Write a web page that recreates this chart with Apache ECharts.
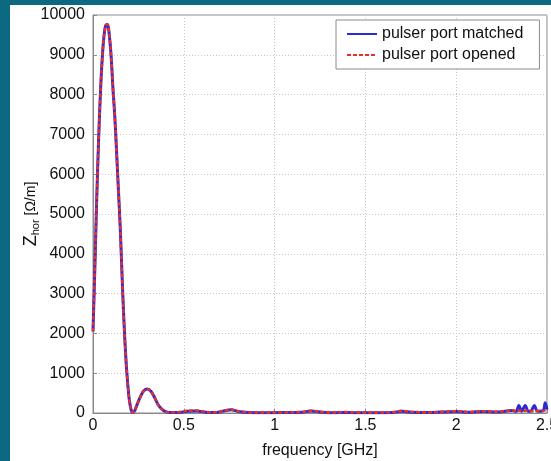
<!DOCTYPE html>
<html>
	<head>
		<meta charset="UTF-8">
		<title></title>
		<script type="text/javascript" src="https://cdn.jsdelivr.net/npm/echarts@6/dist/echarts.min.js"></script>
		<style>
			html, body { margin: 0; padding: 0; background: #0b6a82; }
			#main { position: absolute; left: 10px; top: 5px; width: 541px; height: 456px; background: #fff; }
		</style>
	</head>
	<body>
		<div id="main"></div>
		<script type="text/javascript">
// frequency [GHz] and impedance values
var freq = [0, 0.01, 0.02, 0.03, 0.04, 0.05, 0.06, 0.07, 0.08, 0.09, 0.10, 0.11, 0.12, 0.13, 0.14, 0.15, 0.16, 0.17, 0.18, 0.19, 0.20, 0.21, 0.22, 0.23, 0.24, 0.26, 0.28, 0.30, 0.32, 0.34, 0.36, 0.38, 0.40, 0.43, 0.47, 0.52, 0.57, 0.62, 0.67, 0.72, 0.76, 0.80, 0.86, 0.95, 1.05, 1.15, 1.20, 1.25, 1.33, 1.38, 1.45, 1.55, 1.65, 1.70, 1.75, 1.85, 1.92, 2.00, 2.08, 2.15, 2.22, 2.28, 2.31, 2.33, 2.345, 2.36, 2.38, 2.395, 2.41, 2.43, 2.445, 2.46, 2.48, 2.49, 2.5];
var matched = [2050, 3600, 5300, 6750, 7950, 8850, 9450, 9740, 9760, 9480, 8950, 8150, 7450, 6550, 5600, 4650, 3450, 2350, 1450, 800, 330, 80, 10, 60, 180, 400, 560, 600, 540, 380, 200, 90, 35, 10, 10, 45, 50, 20, 10, 50, 80, 40, 10, 5, 10, 20, 50, 25, 5, 15, 5, 5, 10, 45, 20, 10, 25, 35, 20, 40, 25, 50, 60, 40, 190, 45, 190, 50, 45, 190, 50, 45, 60, 260, 90];
var opened = [2050, 3600, 5300, 6750, 7950, 8850, 9450, 9740, 9760, 9480, 8950, 8150, 7450, 6550, 5600, 4650, 3450, 2350, 1450, 800, 330, 80, 10, 60, 180, 400, 560, 600, 540, 380, 200, 90, 35, 15, 20, 55, 60, 25, 15, 55, 85, 45, 15, 10, 15, 25, 55, 30, 10, 25, 15, 10, 20, 55, 30, 15, 30, 45, 25, 45, 30, 55, 70, 45, 60, 50, 55, 55, 50, 55, 55, 50, 60, 70, 80];
var xTicks = [0, 0.5, 1, 1.5, 2, 2.5];

function pairs(ys) {
    return freq.map(function (f, i) { return [f, ys[i]]; });
}

var myChart = echarts.init(document.getElementById("main"));
var font = 'Liberation Sans, Arial, sans-serif';

myChart.setOption({
    animation: false,
    grid: {
        left: 83, right: 4, top: 10, bottom: 48,
        outerBoundsMode: 'none',
        containLabel: false,
        show: true, borderColor: '#8a8a8a', borderWidth: 1
    },
    legend: {
        orient: 'vertical',
        left: 326, top: 15,
        backgroundColor: '#fff',
        borderColor: '#8a8a8a', borderWidth: 1,
        padding: [6, 16, 6, 10],
        itemGap: 5,
        itemWidth: 30,
        itemHeight: 14,
        itemStyle: { opacity: 0 },
        textStyle: { fontFamily: font, fontSize: 16, color: '#111' },
        data: ['pulser port matched', 'pulser port opened']
    },
    xAxis: {
        type: 'value',
        min: 0, max: 2.5, interval: 0.5,
        name: 'frequency [GHz]',
        nameLocation: 'middle',
        nameGap: 30,
        nameMoveOverlap: false,
        nameTextStyle: { fontFamily: font, fontSize: 16, color: '#111' },
        axisLine: { show: true, lineStyle: { color: '#8a8a8a' } },
        axisTick: { show: true, inside: true, length: 4, lineStyle: { color: '#8a8a8a' } },
        axisLabel: {
            fontFamily: font, fontSize: 16, color: '#111', margin: 5,
            formatter: function (v) { return xTicks.indexOf(v) >= 0 ? String(v) : ''; }
        },
        splitLine: { show: true, lineStyle: { color: '#c8c8c8', type: [1, 2] } }
    },
    yAxis: {
        type: 'value',
        min: 0, max: 10000, interval: 1000,
        name: '{z|Z}{s|hor} [Ω/m]',
        nameLocation: 'middle',
        nameGap: 52,
        nameMoveOverlap: false,
        nameTextStyle: {
            fontFamily: font, fontSize: 14, color: '#111',
            rich: {
                z: { fontFamily: font, fontSize: 18, color: '#111' },
                s: { fontFamily: font, fontSize: 11, color: '#111', padding: [8, 0, 0, 0] }
            }
        },
        axisLine: { show: true, lineStyle: { color: '#8a8a8a' } },
        axisTick: { show: true, inside: true, length: 4, lineStyle: { color: '#8a8a8a' } },
        axisLabel: {
            fontFamily: font, fontSize: 16, color: '#111', margin: 8,
            formatter: function (v) { return String(v); }
        },
        splitLine: { show: true, lineStyle: { color: '#c8c8c8', type: [1, 2] } }
    },
    series: [{
        name: 'pulser port matched',
        type: 'line',
        symbol: 'none',
        smooth: 0.35,
        color: '#2a2ad8',
        lineStyle: { width: 3, color: '#2a2ad8' },
        data: pairs(matched)
    }, {
        name: 'pulser port opened',
        type: 'line',
        symbol: 'none',
        smooth: 0.35,
        color: '#e8302a',
        lineStyle: { width: 2.5, color: '#e8302a', type: [4, 2] },
        data: pairs(opened)
    }]
});
		</script>
	</body>
</html>
